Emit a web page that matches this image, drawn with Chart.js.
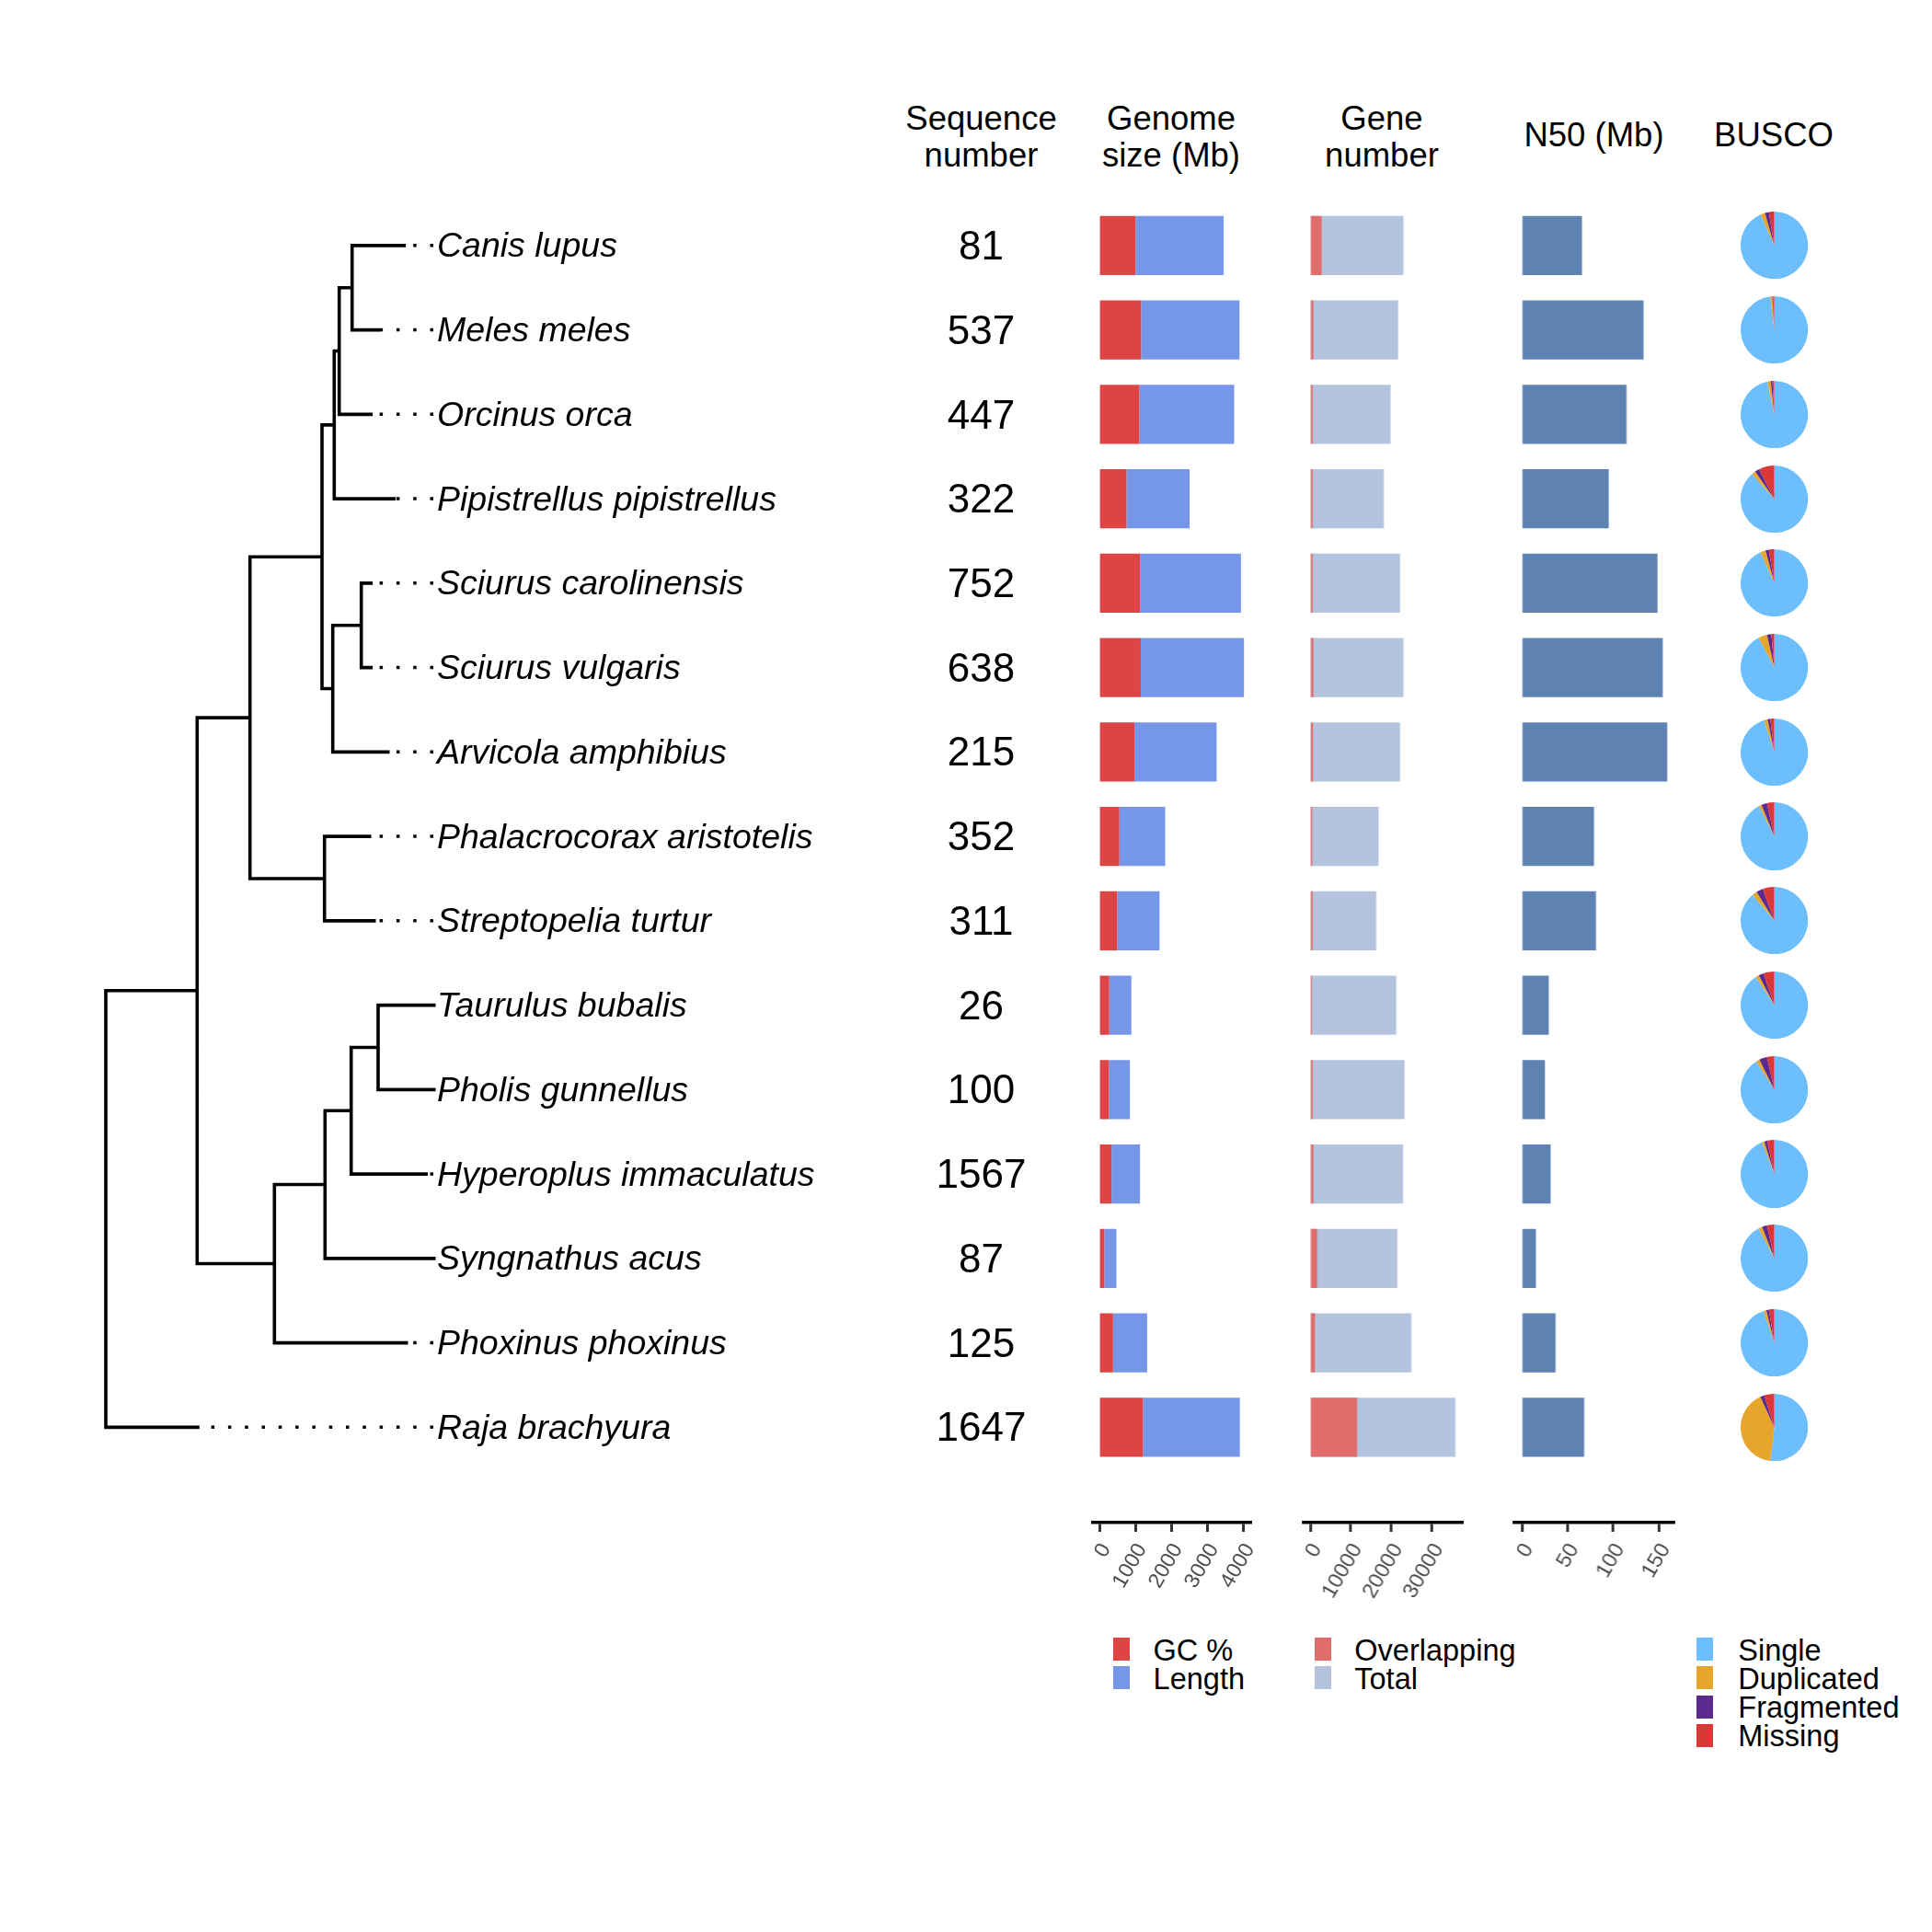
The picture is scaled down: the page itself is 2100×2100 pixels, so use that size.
<!DOCTYPE html>
<html>
<head>
<meta charset="utf-8">
<script src="https://cdn.jsdelivr.net/npm/chart.js@4.4.1/dist/chart.umd.min.js"></script>
<style>
html, body { margin: 0; padding: 0; background: #fff; }
#page { position: relative; width: 2100px; height: 2100px; overflow: hidden;
        font-family: "Liberation Sans", Arial, Helvetica, sans-serif; color: #000; }
.box { position: absolute; }
.hdr { position: absolute; font-size: 36.5px; line-height: 40px; text-align: center;
       transform: translate(-50%, -50%); white-space: nowrap; }
.key { position: absolute; width: 18px; height: 25px; }
.leg { position: absolute; font-size: 32.5px; line-height: 1; transform: translateY(-50%); white-space: nowrap; }
</style>
</head>
<body>
<div id="page"></div>
<script>
// rows, top to bottom (same order as the tips of the tree)
const Species = ['Canis lupus', 'Meles meles', 'Orcinus orca', 'Pipistrellus pipistrellus',
  'Sciurus carolinensis', 'Sciurus vulgaris', 'Arvicola amphibius', 'Phalacrocorax aristotelis',
  'Streptopelia turtur', 'Taurulus bubalis', 'Pholis gunnellus', 'Hyperoplus immaculatus',
  'Syngnathus acus', 'Phoxinus phoxinus', 'Raja brachyura'];
const SeqNumbers = [81, 537, 447, 322, 752, 638, 215, 352, 311, 26, 100, 1567, 87, 125, 1647];
const GcContent = [1002, 1159, 1107, 752, 1127, 1148, 971, 553, 491, 271, 261, 334, 136, 376, 1211];
const GenomeLength = [2453, 2735, 2640, 1753, 2808, 2871, 2286, 1274, 1179, 616, 585, 793, 334, 950, 2693];
const OverlapGenes = [2790, 740, 560, 560, 560, 740, 650, 470, 560, 370, 560, 740, 1670, 1120, 11520];
const TotalGenes = [22950, 21650, 19800, 18120, 22120, 22950, 22120, 16820, 16260, 21190, 23230, 22860, 21470, 24910, 35780];
const N50 = [65.8, 133.2, 114.6, 95.1, 148.5, 154.3, 159.2, 79.0, 81.1, 29.4, 25.2, 31.4, 15.3, 36.8, 68.2];
const BuscoSingle = [93.3, 98.1, 96.7, 88.5, 93.2, 92.3, 95.1, 92.5, 88.8, 90.7, 91.0, 94.0, 92.2, 94.8, 51.9];
const BuscoDuplicated = [2.2, 1.0, 1.6, 1.9, 2.6, 4.2, 1.7, 1.3, 2.4, 1.7, 1.7, 1.2, 1.9, 1.4, 41.3];
const BuscoFragmented = [1.9, 0.4, 0.8, 2.2, 1.6, 2.1, 1.3, 2.7, 3.2, 2.4, 3.8, 1.4, 2.4, 1.2, 2.0];
const BuscoMissing = [2.6, 0.5, 0.9, 7.4, 2.6, 1.4, 1.9, 3.5, 5.6, 5.2, 3.5, 3.4, 3.5, 2.6, 4.8];
const GenomeTicks = [0, 1000, 2000, 3000, 4000];
const GeneTicks = [0, 10000, 20000, 30000];
const N50Ticks = [0, 50, 100, 150];
// branch lengths in depth units, root at 0
const TreeNewick = '(((((((Canis_lupus:56.6,Meles_meles:29):14,Orcinus_orca:34.6):5.4,' +
  'Pipistrellus_pipistrellus:65):13.3,((Sciurus_carolinensis:10.6,Sciurus_vulgaris:10.6):31,' +
  'Arvicola_amphibius:60):11.7):78.3,(Phalacrocorax_aristotelis:49,Streptopelia_turtur:54):81):57.4,' +
  '((((Taurulus_bubalis:60.7,Pholis_gunnellus:60.7):29.3,Hyperoplus_immaculatus:81.6):28.4,' +
  'Syngnathus_acus:118.4):55,Phoxinus_phoxinus:143.4):84):99.3,Raja_brachyura:100);';
const LabelDepth = 356;

const FONT = '"Liberation Sans", Arial, Helvetica, sans-serif';
const page = document.getElementById('page');
const Y_MIN = -0.5, Y_MAX = 15.13;
const PANEL_TOP = 211;

function addBox(left, top, w, h) {
  const d = document.createElement('div');
  d.className = 'box';
  d.style.left = left + 'px'; d.style.top = top + 'px';
  d.style.width = w + 'px'; d.style.height = h + 'px';
  const c = document.createElement('canvas');
  d.appendChild(c);
  page.appendChild(d);
  return c.getContext('2d');
}

function rowAxis() {
  return {
    type: 'linear', min: Y_MIN, max: Y_MAX, reverse: true, display: false, bounds: 'data',
    offset: false, grid: { offset: false },
    afterBuildTicks: s => { s.ticks = Species.map((_, i) => ({ value: i })); }
  };
}

// ---------- tree ----------
function parseNewick(s) {
  let i = 0;
  function node() {
    const n = { children: [], name: '', len: 0 };
    if (s[i] === '(') {
      i++;
      n.children.push(node());
      while (s[i] === ',') { i++; n.children.push(node()); }
      i++;
    }
    let name = '';
    while (i < s.length && !',:);'.includes(s[i])) name += s[i++];
    n.name = name.replace(/_/g, ' ');
    if (s[i] === ':') {
      i++;
      let num = '';
      while (i < s.length && !',);'.includes(s[i])) num += s[i++];
      n.len = parseFloat(num);
    }
    return n;
  }
  return node();
}

function layoutTree(n, depth) {
  n.x = depth + n.len;
  if (n.children.length) {
    n.children.forEach(c => layoutTree(c, n.x));
    n.y = (n.children[0].y + n.children[n.children.length - 1].y) / 2;
  } else {
    n.y = Species.indexOf(n.name);
  }
}

const tree = parseNewick(TreeNewick);
tree.len = 0;
layoutTree(tree, 0);

const bracketPts = [];
const tips = [];
(function walk(n) {
  if (!n.children.length) { tips.push(n); return; }
  const a = n.children[0], b = n.children[n.children.length - 1];
  bracketPts.push({ x: a.x, y: a.y }, { x: n.x, y: a.y }, { x: n.x, y: b.y }, { x: b.x, y: b.y }, { x: null, y: null });
  n.children.forEach(walk);
})(tree);

const treeSets = [{
  data: bracketPts, borderColor: '#000', borderWidth: 3.6, pointRadius: 0,
  borderCapStyle: 'square', borderJoinStyle: 'miter', tension: 0, spanGaps: false
}];
tips.filter(t => t.x < LabelDepth - 2).forEach(t => {
  treeSets.push({
    data: [{ x: LabelDepth, y: t.y }, { x: t.x, y: t.y }],
    borderColor: '#000', borderWidth: 3.5, pointRadius: 0, borderDash: [3.5, 14.8],
    borderCapStyle: 'butt', tension: 0
  });
});

const rowText = {
  id: 'rowText',
  afterDatasetsDraw(chart) {
    const { ctx, scales: { x, y } } = chart;
    ctx.save();
    ctx.fillStyle = '#000';
    ctx.textBaseline = 'middle';
    ctx.font = 'italic 37.5px ' + FONT;
    ctx.textAlign = 'left';
    Species.forEach((s, i) => ctx.fillText(s, x.getPixelForValue(LabelDepth) + 4, y.getPixelForValue(i) + 2));
    ctx.font = '44px ' + FONT;
    ctx.textAlign = 'center';
    SeqNumbers.forEach((v, i) => ctx.fillText(String(v), 1066.5, y.getPixelForValue(i) + 3));
    ctx.restore();
  }
};

const treeChart = new Chart(addBox(0, PANEL_TOP, 1150, 1454), {
  type: 'line',
  data: { datasets: treeSets },
  options: {
    responsive: true, maintainAspectRatio: false, animation: false,
    layout: { padding: { top: 10, bottom: 10, left: 0, right: 0 } },
    scales: {
      x: { type: 'linear', min: -115, max: 1035, display: false },
      y: rowAxis()
    },
    plugins: { legend: { display: false }, tooltip: { enabled: false } }
  },
  plugins: [rowText]
});

// ---------- bar panels ----------
function barPanel(axisLeft, axisWidth, xMin, xMax, ticks, datasets, stacked) {
  return new Chart(addBox(axisLeft - 40, PANEL_TOP, axisWidth + 80, 1544), {
    type: 'bar',
    data: { datasets: datasets },
    options: {
      indexAxis: 'y',
      responsive: true, maintainAspectRatio: false, animation: false,
      layout: { padding: { top: 10, bottom: 0, left: 40, right: 40 } },
      datasets: { bar: { categoryPercentage: 1, barPercentage: 0.70, borderWidth: 0 } },
      scales: {
        x: {
          type: 'linear', min: xMin, max: xMax, bounds: 'data', stacked: stacked,
          afterBuildTicks: s => { s.ticks = ticks.map(v => ({ value: v })); },
          afterFit: s => { s.height = 100; s.paddingLeft = 0; s.paddingRight = 0; },
          border: { display: true, color: '#000', width: 3.5 },
          grid: { display: true, drawOnChartArea: false, drawTicks: true, tickLength: 10, tickWidth: 3, tickColor: '#333' },
          ticks: {
            autoSkip: false, minRotation: 60, maxRotation: 60, padding: 8, labelOffset: 7, color: '#4d4d4d',
            font: { family: FONT, size: 23 }, callback: v => String(v)
          }
        },
        y: Object.assign(rowAxis(), { stacked: stacked })
      },
      plugins: { legend: { display: false }, tooltip: { enabled: false } }
    }
  });
}

const pts = arr => arr.map((v, i) => ({ x: v, y: i }));

barPanel(1187.5, 172.3, -181.7, 4227, GenomeTicks, [
  { label: 'GC %', data: pts(GcContent), backgroundColor: '#DD4444' },
  { label: 'Length', data: pts(GenomeLength), backgroundColor: '#7696E8' }
], true);

barPanel(1417, 172.7, -1617, 37722, GeneTicks, [
  { label: 'Overlapping', data: pts(OverlapGenes), backgroundColor: '#E06C6C', grouped: false },
  { label: 'Total', data: pts(TotalGenes), backgroundColor: '#B5C4DE', grouped: false }
], false);

barPanel(1646.4, 173.2, -8.2, 167.1, N50Ticks, [
  { label: 'N50', data: pts(N50), backgroundColor: '#5E82B1' }
], false);

// ---------- BUSCO pies ----------
const BuscoColors = ['#6CBEFC', '#E8A52B', '#5B2A8C', '#DC3737'];
Species.forEach((s, i) => {
  const cy = PANEL_TOP + treeChart.scales.y.getPixelForValue(i);
  const r = 36.6;
  new Chart(addBox(1928.7 - r, cy - r, 2 * r, 2 * r), {
    type: 'pie',
    data: {
      labels: ['Single', 'Duplicated', 'Fragmented', 'Missing'],
      datasets: [{
        data: [BuscoSingle[i], BuscoDuplicated[i], BuscoFragmented[i], BuscoMissing[i]],
        backgroundColor: BuscoColors, borderWidth: 0
      }]
    },
    options: {
      responsive: true, maintainAspectRatio: false, animation: false,
      layout: { padding: 0 },
      plugins: { legend: { display: false }, tooltip: { enabled: false } }
    }
  });
});

// ---------- headers ----------
function header(html, x, y) {
  const d = document.createElement('div');
  d.className = 'hdr';
  d.innerHTML = html;
  d.style.left = x + 'px'; d.style.top = y + 'px';
  page.appendChild(d);
}
header('Sequence<br>number', 1066.5, 148.7);
header('Genome<br>size (Mb)', 1273, 148.7);
header('Gene<br>number', 1502, 148.7);
header('N50 (Mb)', 1732.5, 147.4);
header('BUSCO', 1928, 147.4);

// ---------- legends ----------
function legend(keyX, textX, labels, colors) {
  labels.forEach((lab, i) => {
    const top = 1780 + i * 31.3;
    const k = document.createElement('div');
    k.className = 'key';
    k.style.left = keyX + 'px'; k.style.top = top + 'px'; k.style.background = colors[i];
    page.appendChild(k);
    const t = document.createElement('div');
    t.className = 'leg';
    t.textContent = lab;
    t.style.left = textX + 'px'; t.style.top = (top + 13.5) + 'px';
    page.appendChild(t);
  });
}
legend(1210.3, 1253.6, ['GC %', 'Length'], ['#DD4444', '#7696E8']);
legend(1429, 1472.3, ['Overlapping', 'Total'], ['#E06C6C', '#B5C4DE']);
legend(1844.3, 1889.3, ['Single', 'Duplicated', 'Fragmented', 'Missing'], BuscoColors);
</script>
</body>
</html>
